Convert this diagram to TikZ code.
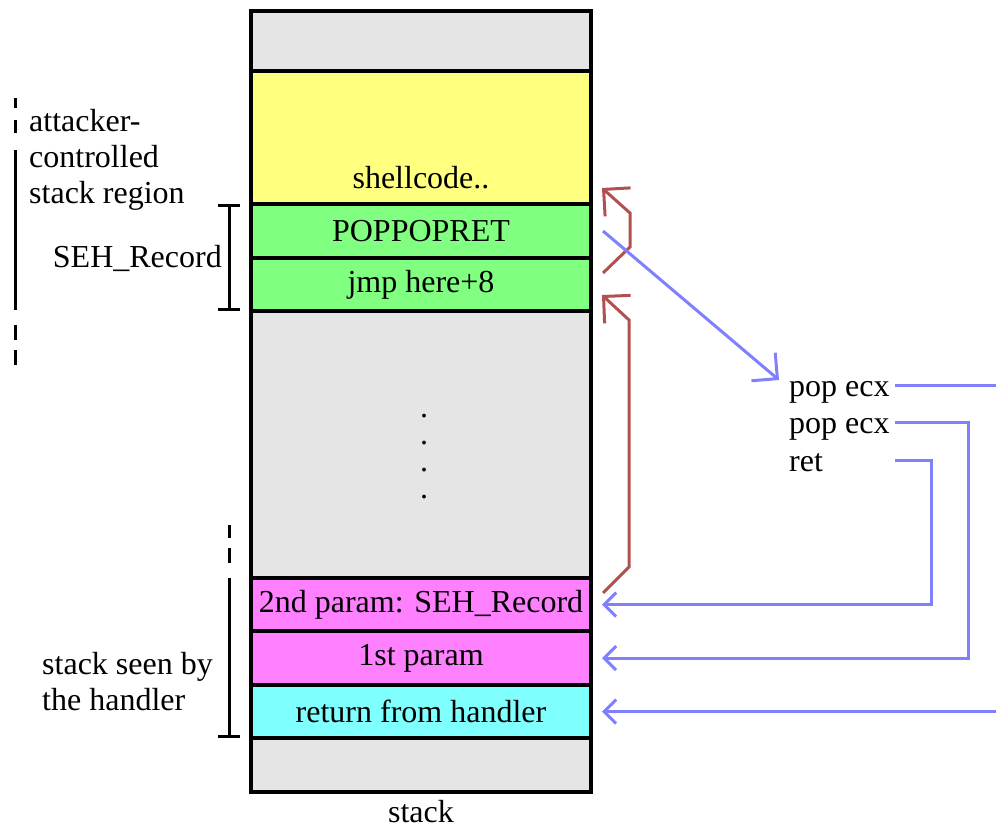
\documentclass[tikz,border=0pt]{standalone}
\usepackage{fontspec}
\setmainfont{Liberation Serif}
\usetikzlibrary{positioning,arrows.meta}

\definecolor{gapgray}{HTML}{E5E5E5}
\definecolor{shellyellow}{HTML}{FFFF80}
\definecolor{sehgreen}{HTML}{80FF80}
\definecolor{parammagenta}{HTML}{FF80FF}
\definecolor{retcyan}{HTML}{80FFFF}
\definecolor{jumpred}{HTML}{B25050}
\definecolor{flowblue}{HTML}{8080FF}

\begin{document}
\begin{tikzpicture}[
            x=1pt, y=-1pt,
            font=\fontsize{32}{36}\selectfont,
            stackcell/.style={draw, line width=3.2pt, minimum width=340pt, inner sep=0pt, outer sep=0pt},
            jumpline/.style={draw=jumpred, line width=3pt, -{Straight Barb[angle=90:27pt]}},
            flowline/.style={draw=flowblue, line width=3pt},
            flowarrow/.style={flowline, -{Straight Barb[angle=90:17pt]}},
            marker/.style={line width=3pt},
            asm/.style={anchor=west, inner xsep=5pt, inner ysep=0pt, text height=28pt, text depth=6pt}
        ]
            \useasboundingbox (0,0) rectangle (996,827);

            % stack, top to bottom
            \node[stackcell, fill=gapgray, minimum height=60pt, anchor=north west] (topgap) at (251,11) {};
            \node[stackcell, fill=shellyellow, minimum height=133pt, below=0pt of topgap] (shellcode) {};
            \node[stackcell, fill=sehgreen, minimum height=54pt, below=0pt of shellcode] (handler) {POPPOPRET};
            \node[stackcell, fill=sehgreen, minimum height=53pt, below=0pt of handler] (nextjmp) {jmp here+8};
            \node[stackcell, fill=gapgray, minimum height=267pt, below=0pt of nextjmp] (middle) {};
            \node[stackcell, fill=parammagenta, minimum height=53pt, below=0pt of middle] (param2) {2nd param: SEH\_Record};
            \node[stackcell, fill=parammagenta, minimum height=54pt, below=0pt of param2] (param1) {1st param};
            \node[stackcell, fill=retcyan, minimum height=53pt, below=0pt of param1] (retaddr) {return from handler};
            \node[stackcell, fill=gapgray, minimum height=54pt, below=0pt of retaddr] (bottomgap) {};

            \node[anchor=base] (shelltext) at ([yshift=16pt]shellcode.south) {shellcode..};
            \node[anchor=base, align=center, inner sep=0pt, font=\fontsize{32}{27}\selectfont] (dots)
                at ([xshift=3pt, yshift=-187pt]middle.north) {.\\.\\.\\.};
            \node[anchor=base] (stacklabel) at ([yshift=-30pt]bottomgap.south) {stack};

            % regions on the left
            \node[anchor=base west, align=left, inner sep=0pt] (attacker) at (29,203) {attacker-\\controlled\\stack region};
            \node[anchor=base east, inner sep=0pt] (sehlabel) at (222,267) {SEH\_Record};
            \node[anchor=base west, align=left, inner sep=0pt] (seenby) at (42,710) {stack seen by\\the handler};

            \draw[marker, dash pattern=on 10pt off 12pt on 13pt off 17pt on 160pt off 15pt on 15pt off 10pt on 15pt]
                (15,98) -- (15,365);
            \coordinate (sehbar) at (229,0);
            \draw[marker, {Bar[width=22pt]}-{Bar[width=22pt]}] (sehbar |- handler.north) -- (sehbar |- nextjmp.south);
            \coordinate (seentop) at (229,525);
            \draw[marker, dash pattern=on 13pt off 10pt on 15pt off 15pt on 200pt, -{Bar[width=22pt]}]
                (seentop) -- (seentop |- retaddr.south);

            % jumps
            \draw[jumpline] ([xshift=12pt,yshift=-15pt]nextjmp.north east) -- ++(27,-26) -- ++(0,-34)
                -- ([xshift=11pt,yshift=16pt]shellcode.south east);
            \draw[jumpline] ([xshift=12pt,yshift=-15pt]param2.north east) -- ++(26,-26) -- ++(0,-247)
                -- ([xshift=11pt,yshift=16pt]nextjmp.south east);

            % pop pop ret
            \node[asm] (popa) at (784,385) {pop ecx};
            \node[asm] (popb) at (784,422) {pop ecx};
            \node[asm] (retn) at (784,460) {ret};
            \coordinate (rim) at (996,0);

            \draw[flowline, -{Straight Barb[angle=90:26pt]}] ([xshift=12pt]handler.east) -- ([xshift=-5pt,yshift=5pt]popa.west);
            \draw[flowline] (popa.east) -- (popa.east -| rim);
            \draw[flowarrow] (popb.east) -- ++(74,0) |- ([xshift=11pt]param1.east);
            \draw[flowarrow] (retn.east -| popb.east) -- ++(37,0) |- ([xshift=11pt]param2.east);
            \draw[flowarrow] (retaddr.east -| rim) -- ([xshift=11pt]retaddr.east);
        \end{tikzpicture}
\end{document}
